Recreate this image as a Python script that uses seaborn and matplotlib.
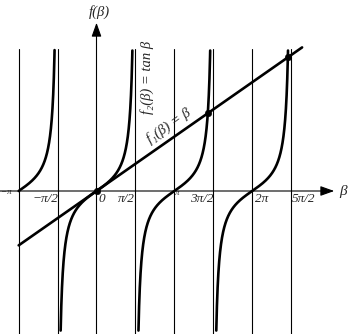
import numpy as np
import pandas as pd
import matplotlib
matplotlib.use("Agg")
import matplotlib.pyplot as plt
import seaborn as sns

# ---- data ----
asymptotes = [-np.pi, -np.pi/2, np.pi/2, np.pi, 3*np.pi/2, 2*np.pi, 5*np.pi/2]
tick_values = [-np.pi, -np.pi/2, 0, np.pi/2, np.pi, 3*np.pi/2, 2*np.pi, 5*np.pi/2]
tick_labels = ["\u2212\u03c0", "\u2212\u03c0/2", "0", "\u03c0/2", "\u03c0", "3\u03c0/2", "2\u03c0", "5\u03c0/2"]
branch_starts = [-np.pi, -np.pi/2, np.pi/2, 3*np.pi/2]
branch_ends = [-np.pi/2, np.pi/2, 3*np.pi/2, 5*np.pi/2]
roots = [0.0, 4.4934, 7.7253]
line_range = [-np.pi, 8.3]
clip_top, clip_bottom = 8.15, -8.1

sns.set_theme(style="white")
plt.rcParams["font.family"] = ["Liberation Serif", "DejaVu Serif"]

# build tan branches
rows = []
for i, (a, b) in enumerate(zip(branch_starts, branch_ends)):
    x = np.linspace(a, b, 4000)[1:-1] if i > 0 else np.linspace(a, b, 4000)[:-1]
    y = np.tan(x)
    m = (y <= clip_top) & (y >= clip_bottom)
    for xx, yy in zip(x[m], y[m]):
        rows.append((xx, yy, i))
tan_df = pd.DataFrame(rows, columns=["beta", "f", "branch"])
lin_df = pd.DataFrame({"beta": line_range, "f": line_range})
pts_df = pd.DataFrame({"beta": roots, "f": roots})

fig = plt.figure(figsize=(3.53, 3.34), dpi=100)
ax = fig.add_axes([0, 0, 1, 1])
px_x, px_y = 24.77, 17.3
ax.set_xlim(-96.5/px_x, (353-96.5)/px_x)
ax.set_ylim((191-334)/px_y, 191/px_y)
ax.axis("off")

# vertical guide lines
for a in asymptotes:
    ax.plot([a, a], [8.21, -9], color="black", lw=0.8)

# axes with arrows
ax.annotate("", xy=(0, (191-20)/px_y), xytext=(0, -9),
            arrowprops=dict(arrowstyle="-|>,head_length=0.7,head_width=0.25", color="black", lw=0.8))
ax.annotate("", xy=((337-96.5)/px_x, 0), xytext=(-96.5/px_x - 0.2, 0),
            arrowprops=dict(arrowstyle="-|>,head_length=0.7,head_width=0.25", color="black", lw=0.8))

sns.lineplot(data=tan_df, x="beta", y="f", units="branch", estimator=None,
             color="black", lw=1.9, ax=ax, sort=False)
sns.lineplot(data=lin_df, x="beta", y="f", color="black", lw=1.9, ax=ax)
sns.scatterplot(data=pts_df, x="beta", y="f", color="black", s=22, ax=ax, zorder=5, edgecolor="black")
ax.set_xlabel(""); ax.set_ylabel("")

# tick labels (offsets in pixels)
offs = [(-12, -1), (-12.6, -8), (5, -8), (-9.4, -8), (3, -2), (-11.7, -8), (9, -8), (13, -8)]
for v, lab, (dx, dy) in zip(tick_values, tick_labels, offs):
    ax.annotate(lab, xy=(v, 0), xytext=(dx*0.72, dy*0.72), textcoords="offset points",
                ha="center", va="center", fontsize=9.5 if lab not in ("\u03c0", "\u2212\u03c0") else 6.5,
                style="italic")

ax.text((343-96.5)/px_x, (191-192)/px_y, "\u03b2", fontsize=11, style="italic", ha="center", va="center")
ax.text(0.1, (191-12)/px_y, "f(\u03b2)", fontsize=10.5, style="italic", ha="center", va="center")
ax.text((147-96.5)/px_x, (191-77)/px_y, "f\u2082(\u03b2) = tan \u03b2", fontsize=10.5, style="italic",
        rotation=90, ha="center", va="center")
ax.text((169-96.5)/px_x, (191-126)/px_y, "f\u2081(\u03b2) = \u03b2", fontsize=10.5, style="italic",
        rotation=35, ha="center", va="center")

fig.savefig("out.png", dpi=100)
